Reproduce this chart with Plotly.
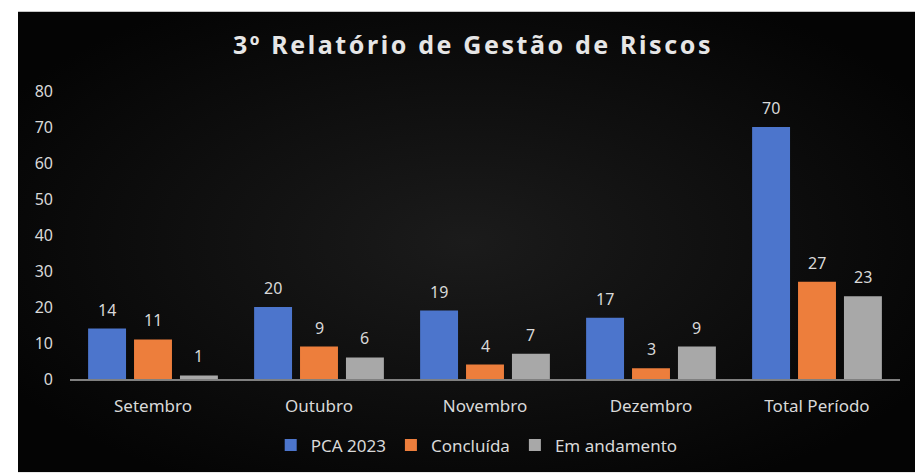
import base64
import plotly.graph_objects as go

categories = ["Setembro", "Outubro", "Novembro", "Dezembro", "Total Período"]
pca_2023 = [14, 20, 19, 17, 70]
concluida = [11, 9, 4, 3, 27]
em_andamento = [1, 6, 7, 9, 23]
series_names = ["PCA 2023", "Concluída", "Em andamento"]
y_ticks = [0, 10, 20, 30, 40, 50, 60, 70, 80]

colors = ["#4c75cc", "#ed7e3c", "#a8a8a8"]
FONT = "Noto Sans"
TXT = "#d9d9d9"

L, R, T, B = 70, 15, 91, 94
W, H = 915, 475
pw, ph = W - L - R, H - T - B

BARGAP, GROUPGAP = 0.17, 0.174
slot_px = pw / len(categories) * (1 - BARGAP) / 3

fig = go.Figure()
annotations = []
all_series = [pca_2023, concluida, em_andamento]
for i, (name, vals, col) in enumerate(zip(series_names, all_series, colors)):
    fig.add_trace(go.Bar(
        x=categories, y=vals, name=name,
        marker=dict(color=col, line=dict(width=0)),
    ))
    for c, v in zip(categories, vals):
        annotations.append(dict(
            x=c, y=v, xref="x", yref="y", text=str(v), showarrow=False,
            xshift=(i - 1) * slot_px, yshift=6, yanchor="bottom",
            font=dict(family=FONT, size=16, color=TXT),
        ))

svg = ('<svg xmlns="http://www.w3.org/2000/svg" width="897" height="464" viewBox="0 0 897 464" preserveAspectRatio="none">'
       '<defs><radialGradient id="g" cx="50%" cy="50%" r="60%">'
       '<stop offset="0%" stop-color="#1b1b1b"/><stop offset="100%" stop-color="#040404"/>'
       '</radialGradient></defs><rect width="897" height="464" fill="url(#g)"/></svg>')
src = "data:image/svg+xml;base64," + base64.b64encode(svg.encode()).decode()

x0 = (18 - L) / pw
x1 = (W - L) / pw
y1 = (H - B - 11) / ph
y0 = (H - B - H) / ph

fig.add_layout_image(dict(
    source=src, xref="paper", yref="paper", x=x0, y=y1,
    sizex=x1 - x0, sizey=y1 - y0, xanchor="left", yanchor="top",
    sizing="stretch", layer="below",
))

fig.update_layout(
    width=W, height=H,
    margin=dict(l=L, r=R, t=T, b=B),
    paper_bgcolor="white", plot_bgcolor="rgba(0,0,0,0)",
    barmode="group", bargap=BARGAP, bargroupgap=GROUPGAP,
    title=dict(text="<b>3º Relatório de Gestão de Riscos</b>",
               x=473 / W, xanchor="center", y=1 - 45 / H, yanchor="middle",
               font=dict(family=FONT, size=25, color="#e6e6e6")),
    font=dict(family=FONT, size=16, color=TXT),
    legend=dict(orientation="h", x=0.49, xanchor="center",
                y=(H - B - 448) / ph, yanchor="middle",
                font=dict(family=FONT, size=17, color=TXT),
                bgcolor="rgba(0,0,0,0)", itemwidth=30),
    showlegend=True,
    annotations=annotations,
)
fig.update_xaxes(showgrid=False, showline=True, linecolor="#808080", linewidth=2,
                 ticks="", tickfont=dict(family=FONT, size=17, color=TXT),
                 ticklabelstandoff=11, fixedrange=True)
fig.update_yaxes(range=[0, 80], tickvals=y_ticks, showgrid=False, zeroline=False,
                 showline=False, ticks="", tickfont=dict(family=FONT, size=16, color=TXT),
                 ticklabelstandoff=16, fixedrange=True)

post = """
document.body.style.margin='0';
document.body.style.padding='0';
var t=document.querySelector('.gtitle');
if(t){t.style.letterSpacing='2.6px';}
"""
fig.write_html("out.html", post_script=post, config={"displayModeBar": False})
